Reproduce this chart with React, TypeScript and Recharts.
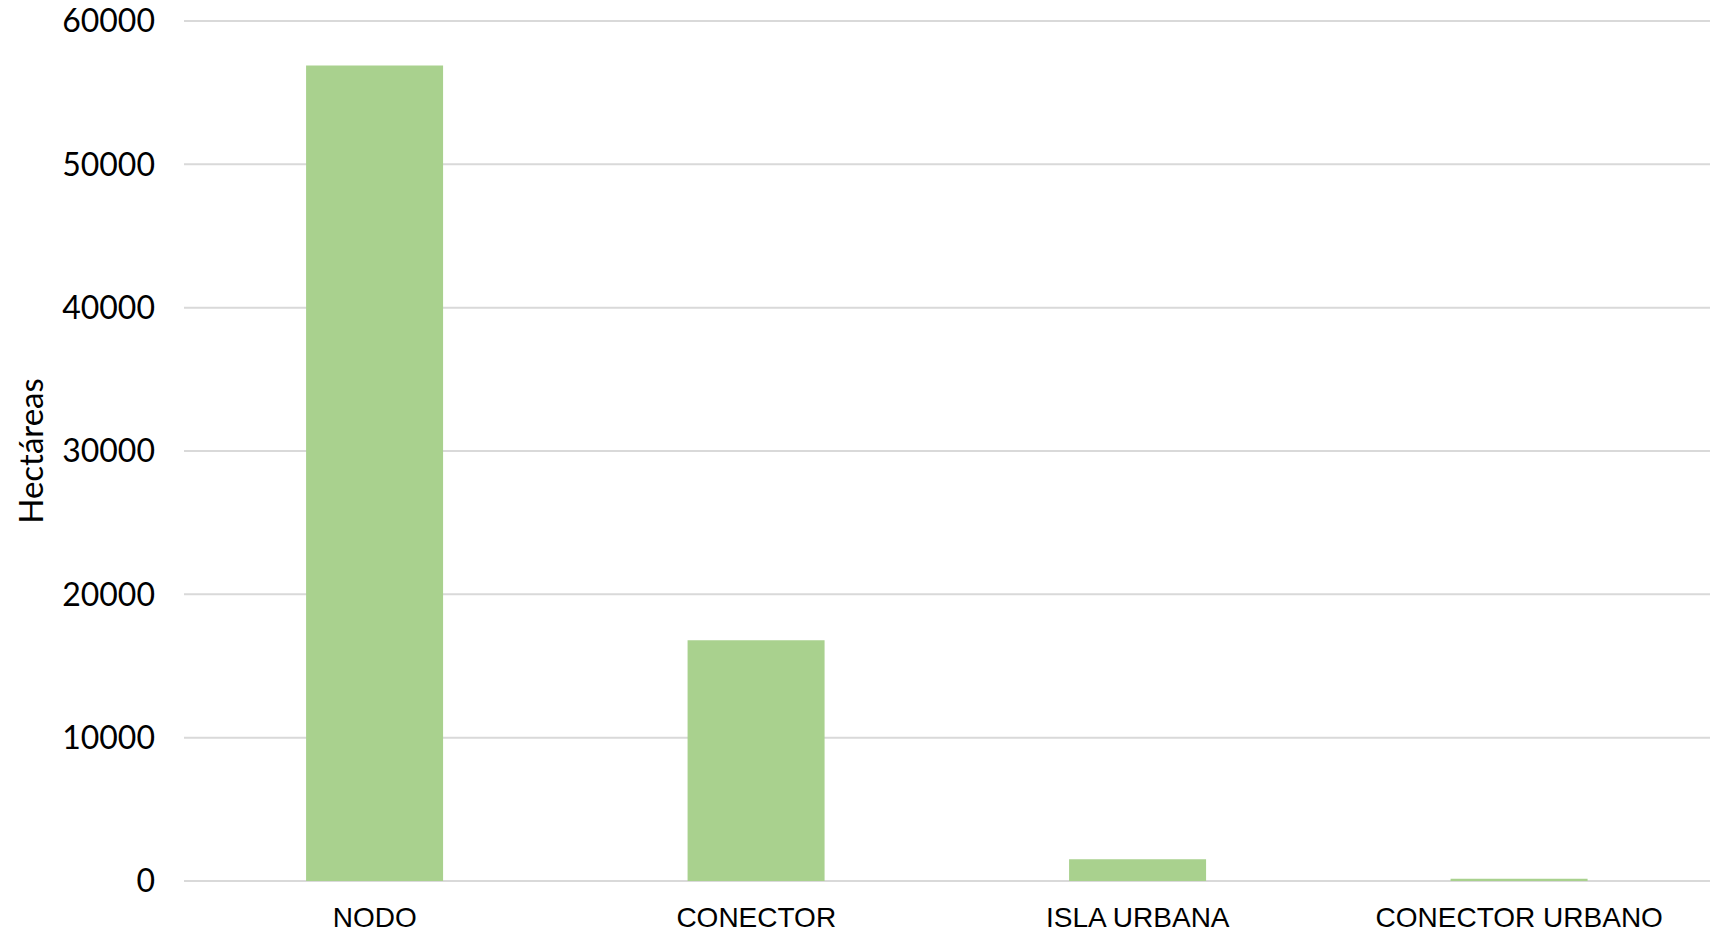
import { BarChart, Bar, XAxis, YAxis, CartesianGrid } from 'recharts'

const categories = ['NODO', 'CONECTOR', 'ISLA URBANA', 'CONECTOR URBANO']
const hectareas = [56900, 16800, 1520, 150]
const yTicks = [0, 10000, 20000, 30000, 40000, 50000, 60000]

const data = categories.map((name, i) => ({ name, value: hectareas[i] }))

export default function App() {
  return (
    <div style={{ position: 'absolute', left: 0, top: 0, width: 1717, height: 938, background: '#fff' }}>
      <BarChart
        width={1717}
        height={938}
        data={data}
        margin={{ top: 21, right: 7, left: 0, bottom: 0 }}
        barCategoryGap="32%"
      >
        <CartesianGrid vertical={false} stroke="#d9d9d9" strokeWidth={2} />
        <XAxis
          dataKey="name"
          height={57}
          axisLine={false}
          tickLine={false}
          tickSize={0}
          tickMargin={26}
          interval={0}
          tick={{ fontSize: 28, fill: '#000', fontFamily: '"Liberation Sans", sans-serif' }}
        />
        <YAxis
          width={184}
          domain={[0, 60000]}
          ticks={yTicks}
          axisLine={false}
          tickLine={false}
          tickSize={0}
          tickMargin={29}
          tick={{ fontSize: 32, fill: '#000', fontFamily: 'Lato, sans-serif' }}
          label={{
            value: 'Hectáreas',
            angle: -90,
            position: 'insideLeft',
            offset: 31,
            style: { textAnchor: 'middle', fill: '#000', fontSize: 33, fontFamily: 'Lato, sans-serif' },
          }}
        />
        <Bar dataKey="value" fill="#a9d18e" isAnimationActive={false} />
      </BarChart>
    </div>
  )
}
